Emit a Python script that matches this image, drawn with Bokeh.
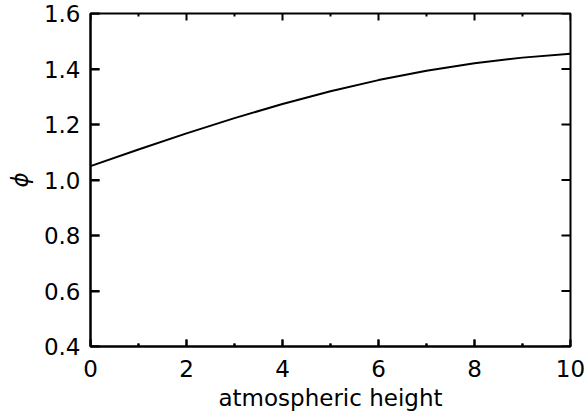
from bokeh.plotting import figure
from bokeh.models import FixedTicker, LinearAxis, Range1d, NumeralTickFormatter
from bokeh.embed import file_html
from bokeh.resources import INLINE

heights = [0, 1, 2, 3, 4, 5, 6, 7, 8, 9, 10]
phi = [1.050, 1.110, 1.168, 1.223, 1.274, 1.320, 1.360, 1.394, 1.421, 1.441, 1.455]
x_ticks = [0, 2, 4, 6, 8, 10]
x_minor = [1, 3, 5, 7, 9]
y_ticks = [0.4, 0.6, 0.8, 1.0, 1.2, 1.4, 1.6]

FONT = "DejaVu Sans"
FS = "23px"
W, H = 586, 420
BL, BR, BT, BB = 90, 16, 13, 74
FRAME_W = W - BL - BR
FRAME_H = H - BT - BB

p = figure(width=W, height=H, output_backend="svg", toolbar_location=None,
           x_range=Range1d(0, 10), y_range=Range1d(0.4, 1.6),
           x_axis_location=None, y_axis_location=None,
           min_border_left=BL, min_border_right=BR, min_border_top=BT, min_border_bottom=BB)
p.grid.visible = False
p.background_fill_color = "white"
p.border_fill_color = "white"
p.outline_line_color = "black"
p.outline_line_width = 2

def style(ax, tick_in):
    ax.axis_line_color = "black"
    ax.axis_line_width = 2
    ax.major_tick_in = tick_in
    ax.major_tick_out = 0
    ax.minor_tick_in = tick_in // 2
    ax.minor_tick_out = 0
    ax.major_tick_line_color = "black"
    ax.minor_tick_line_color = "black"
    ax.major_tick_line_width = 2
    ax.minor_tick_line_width = 2
    ax.major_label_text_font = FONT
    ax.major_label_text_font_size = FS
    ax.major_label_text_color = "black"
    ax.axis_label_text_font = FONT
    ax.axis_label_text_font_size = FS
    ax.axis_label_text_font_style = "normal"
    ax.axis_label_text_color = "black"

bottom = LinearAxis(ticker=FixedTicker(ticks=x_ticks, minor_ticks=x_minor),
                    axis_label="atmospheric height")
style(bottom, 7)
bottom.major_label_standoff = 13
bottom.axis_label_standoff = 5
p.add_layout(bottom, "below")

left = LinearAxis(ticker=FixedTicker(ticks=y_ticks, minor_ticks=[]), axis_label="ϕ",
                  formatter=NumeralTickFormatter(format="0.0"))
style(left, 9)
left.major_label_standoff = 10
left.axis_label_standoff = 8
left.axis_label_text_font_style = "italic"
p.add_layout(left, "left")

p.line(heights, phi, line_color="black", line_width=2)

# inward ticks on all four edges of the box, drawn as line pieces
ty = (y_ticks[-1] - y_ticks[0]) / FRAME_H
tx = (heights[-1] - heights[0]) / FRAME_W
xs, ys = [], []
for x in x_ticks:
    xs += [[x, x], [x, x]]
    ys += [[y_ticks[-1], y_ticks[-1] - 7 * ty], [y_ticks[0], y_ticks[0] + 7 * ty]]
for x in x_minor:
    xs += [[x, x], [x, x]]
    ys += [[y_ticks[-1], y_ticks[-1] - 3 * ty], [y_ticks[0], y_ticks[0] + 3 * ty]]
for y in y_ticks:
    xs += [[heights[-1], heights[-1] - 9 * tx], [heights[0], heights[0] + 9 * tx]]
    ys += [[y, y], [y, y]]
p.multi_line(xs, ys, line_color="black", line_width=2)

open("out.html", "w").write(file_html(p, INLINE))
